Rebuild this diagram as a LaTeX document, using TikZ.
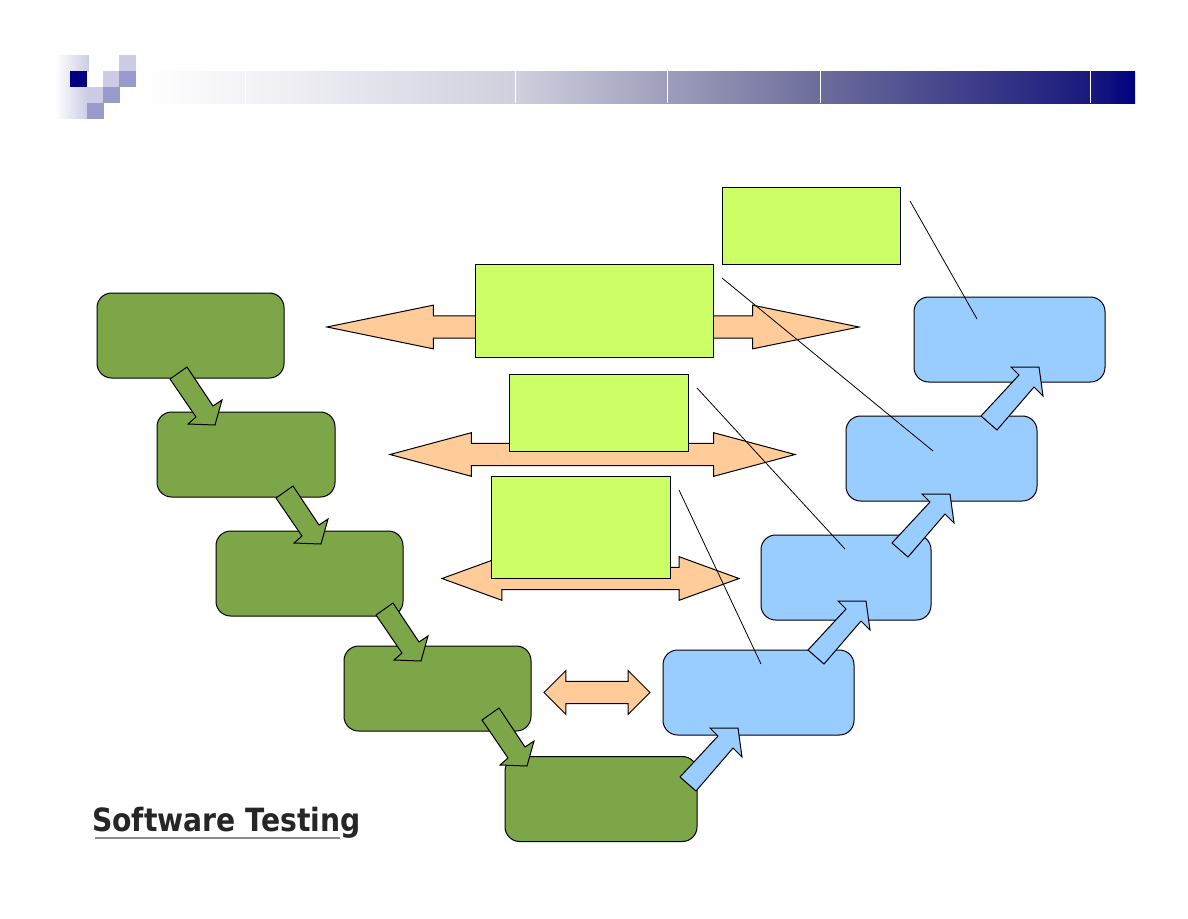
\documentclass[tikz,border=0pt]{standalone}
\usepackage{fontspec}
\setsansfont{DejaVu Sans}
\usetikzlibrary{shapes.arrows}

\definecolor{devgreen}{RGB}{124,166,71}
\definecolor{testblue}{RGB}{153,204,255}
\definecolor{planlime}{RGB}{204,255,102}
\definecolor{linkorange}{RGB}{255,204,153}
\definecolor{navy}{RGB}{0,0,128}
\definecolor{tilelight}{RGB}{204,204,230}
\definecolor{tilemid}{RGB}{153,153,204}
\definecolor{bara}{RGB}{244,244,248}
\definecolor{barb}{RGB}{208,208,222}
\definecolor{barc}{RGB}{158,158,188}
\definecolor{bard}{RGB}{108,108,155}
\definecolor{bare}{RGB}{25,25,125}

\begin{document}
\begin{tikzpicture}[
    x=0.75pt, y=-0.75pt,
    panel/.style={rectangle, draw=black, line width=0.75pt, inner sep=0pt, outer sep=0pt, anchor=north west},
    devbox/.style={panel, fill=devgreen, rounded corners=11pt},
    testbox/.style={panel, fill=testblue, rounded corners=11pt},
    planbox/.style={panel, fill=planlime},
    link/.style={double arrow, draw=black, line width=0.75pt, fill=linkorange, inner xsep=0pt, inner ysep=8pt, outer sep=0pt, double arrow head indent=0pt, double arrow head extend=8pt},
    flow/.style={draw=black, line width=0.75pt, line join=miter},
    tie/.style={draw=black, line width=0.6pt},
]

% ---- Layout ----
\def\px{0.75}

% ---- Header: corner tiles ----
\fill[left color=white, right color=tilelight] (55,55) rectangle (89,71);
\fill[left color=white, right color=tilelight] (55,71) rectangle (87,118);
\fill[navy] (70,71) rectangle (87,87);
\foreach \xa/\ya/\tone in {119/55/tilelight,103/71/tilelight,119/71/tilemid,87/87/tilelight,103/87/tilemid,87/103/tilemid} {
    \fill[\tone] (\xa,\ya) rectangle +(16.5,16);
}

% ---- Header: bar ----
\foreach \xa/\xb/\ca/\cb in {
    136/245/white/bara,
    245/515/bara/barb,
    515/667/barb/barc,
    667/820/barc/bard,
    820/1090/bard/bare,
    1090/1135/bare/navy} {
    \fill[left color=\ca, right color=\cb] (\xa,71) rectangle (\xb,103);
}
\foreach \xa in {245,515,667,820,1090} {
    \draw[white, line width=0.75pt] (\xa,71) -- (\xa,103);
}

% ---- Left leg ----
\foreach \name/\xa/\ya/\xb/\yb in {dev1/97/293/284/378, dev2/157/412/335/497, dev3/216/531/403/616, dev4/344/646/531/731, dev5/505/756.5/697/841.5} {
    \node[devbox, minimum width={(\xb-\xa)*\px*1pt}, minimum height={(\yb-\ya)*\px*1pt}] (\name) at (\xa,\ya) {};
}

% ---- Right leg ----
\foreach \name/\xa/\ya/\xb/\yb in {test1/663/650/854/735, test2/761/535/931/620, test3/846/416/1037/501, test4/914/297/1105/382} {
    \node[testbox, minimum width={(\xb-\xa)*\px*1pt}, minimum height={(\yb-\ya)*\px*1pt}] (\name) at (\xa,\ya) {};
}

% ---- Links across the V ----
\node[link, minimum height=399pt, double arrow tip angle=23.2] (link1) at (593,327) {};
\node[link, minimum height=303.75pt, double arrow tip angle=30] (link2) at (592.5,454.5) {};
\node[link, minimum height=222.75pt, double arrow tip angle=40] (link3) at (590.5,578.5) {};
\node[link, minimum height=79.5pt, double arrow tip angle=90] (link4) at (597,692.5) {};

% ---- Plan boxes ----
\foreach \name/\xa/\ya/\xb/\yb in {plan1/722.5/187/900.5/264, plan2/475/264/713/357, plan3/509/374/688/451, plan4/491/476/670/578} {
    \node[planbox, minimum width={(\xb-\xa)*\px*1pt}, minimum height={(\yb-\ya)*\px*1pt}] (\name) at (\xa,\ya) {};
}

% ---- Flow arrows ----
\foreach \xa/\ya in {170/379,276/498,376/615,482/720} {
    \draw[flow, fill=devgreen, shift={(\xa,\ya)}]
        (0,0) -- (17,-12) -- (43,27) -- (52,21) -- (45,46) -- (18,45) -- (26,38) -- cycle;
}
\foreach \xa/\ya in {680/777,808/650,892/543,981/416} {
    \draw[flow, fill=testblue, shift={(\xa,\ya)}]
        (0,0) -- (16,14) -- (53,-29) -- (62,-20) -- (58,-49) -- (30,-49) -- (38,-41) -- cycle;
}

% ---- Ties from plan boxes to the right leg ----
\coordinate (tie1a) at (910,201);
\coordinate (tie1b) at (977,319);
\coordinate (tie2a) at (722,278);
\coordinate (tie2b) at (933,451);
\coordinate (tie3a) at (697,388);
\coordinate (tie3b) at (845,549);
\coordinate (tie4a) at (679,490);
\coordinate (tie4b) at (761,664);
\foreach \i in {1,2,3,4} {
    \draw[tie] (tie\i a) -- (tie\i b);
}

% ---- Logo ----
\node[inner sep=0pt, anchor=base west, text=black!85, xscale=0.882, font=\sffamily\bfseries\fontsize{24}{24}\selectfont] (logo) at (92,831) {Software Testing};
\coordinate (rulea) at (95,838);
\coordinate (ruleb) at (340,838);
\draw[black!45, line width=1.2pt] (rulea) -- (ruleb);

\useasboundingbox (0,0) rectangle (1188,918);

\end{tikzpicture}
\end{document}
